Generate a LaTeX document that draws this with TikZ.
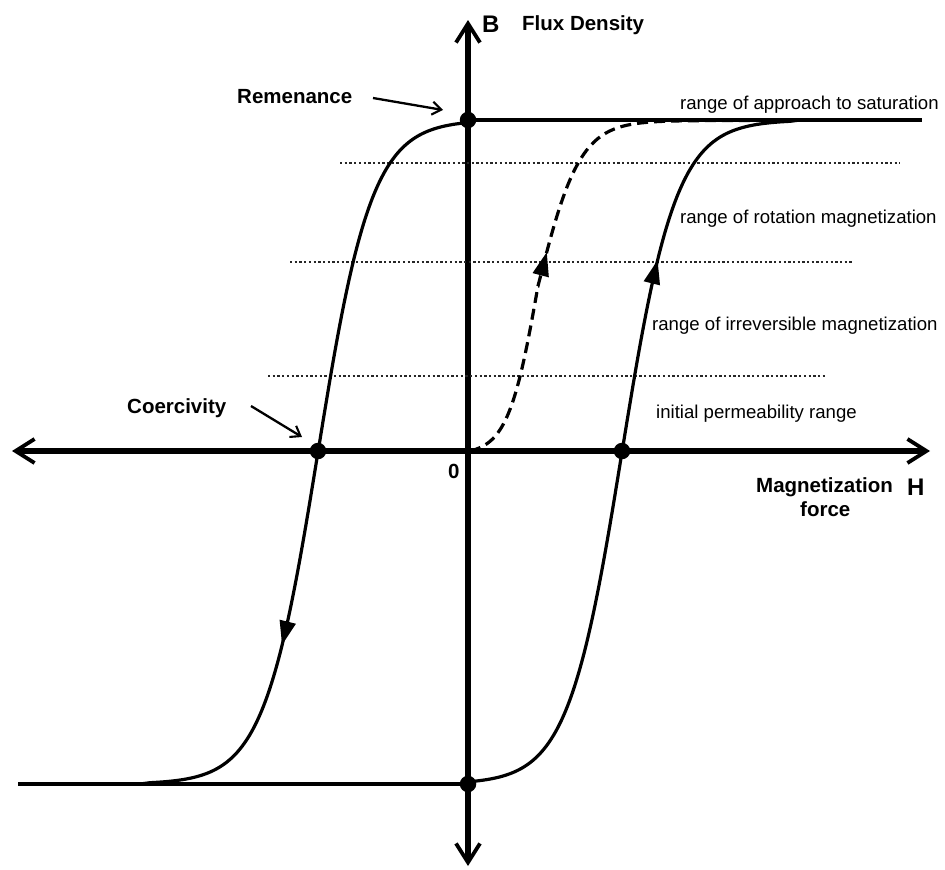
\documentclass[tikz,border=0pt]{standalone}
\usepackage{fontspec}
\setmainfont{Liberation Sans}
\usetikzlibrary{arrows.meta}
\begin{document}
\begin{tikzpicture}[x=1pt,y=-1pt,
  axisline/.style={line width=5.3pt,{Straight Barb[length=19pt,width=24pt,line width=3.8pt]}-{Straight Barb[length=19pt,width=24pt,line width=3.8pt]}},
  satline/.style={line width=3.2pt},
  curveline/.style={line width=3.2pt},
  dashcurve/.style={line width=3.2pt,dash pattern=on 11pt off 6pt},
  dotline/.style={line width=2.3pt,dash pattern=on 2.3pt off 2.4pt,black!85},
  curvetip/.style={line width=3pt,-{Triangle[length=24pt,width=16pt]}},
  pointer/.style={line width=2.3pt,-{Straight Barb[length=9pt,width=13pt,line width=2.1pt]}},
  dotnode/.style={circle,fill=black,inner sep=0pt,minimum size=16.5pt},
  boldlbl/.style={font=\fontsize{20.5}{24}\selectfont\bfseries,inner sep=0pt,anchor=base west},
  biglbl/.style={font=\fontsize{24}{28}\selectfont\bfseries,inner sep=0pt,anchor=base west},
  rangelbl/.style={font=\fontsize{18.6}{22}\selectfont,inner sep=0pt,anchor=base west},
]
\useasboundingbox (0,0) rectangle (945,870);

% axes
\coordinate (ytop) at (468,20);
\coordinate (ybot) at (468,866);
\coordinate (xleft) at (12,451);
\coordinate (xright) at (930,451);
\draw[axisline] (ybot) -- (ytop);
\draw[axisline] (xleft) -- (xright);

% dotted range separators
\coordinate (d1a) at (340,163); \coordinate (d1b) at (900,163);
\coordinate (d2a) at (290,262); \coordinate (d2b) at (852,262);
\coordinate (d3a) at (268,376); \coordinate (d3b) at (827,376);
\draw[dotline] (d1a) -- (d1b);
\draw[dotline] (d2a) -- (d2b);
\draw[dotline] (d3a) -- (d3b);

% saturation lines
\coordinate (satR) at (922,120);
\coordinate (satL) at (18,784);
\draw[satline] (468,120) -- (satR);
\draw[satline] (468,784) -- (satL);

% descending branch
\draw[curveline] plot[domain=468:150,samples=140,smooth] (\x,{452-332*tanh((\x-318)/54)}) -- (140,784);
% ascending branch
\draw[curveline] plot[domain=468:790,samples=140,smooth] (\x,{452-332*tanh((\x-622)/54)}) -- (800,120);
% initial magnetization curve
\draw[dashcurve] plot[domain=470:538,samples=60,smooth] (\x,{286+165*tanh((538-\x)/30)/0.979})
  -- plot[domain=538:790,samples=110,smooth] (\x,{286-165.5*tanh((\x-538)/42)});

% arrow tips on the curves
\draw[curvetip] (287.3,623.6) -- (282,645);
\draw[curvetip] (652.3,281.4) -- (657.6,260);
\draw[curvetip] (541.2,273.3) -- (546.8,252);

% points
\node[dotnode] (Br) at (468,120) {};
\node[dotnode] (Brn) at (468,784) {};
\node[dotnode] (Hc) at (318,451) {};
\node[dotnode] (Hcp) at (622,451) {};

% labels
\node[biglbl] (Blbl) at (482,32) {B};
\node[boldlbl] (flux) at (522,30) {Flux Density};
\node[boldlbl] (rem) at (237,103) {Remenance};
\node[boldlbl] (coer) at (127,413) {Coercivity};
\node[boldlbl] (zero) at (448,478) {0};
\node[boldlbl] (magn) at (756,492) {Magnetization};
\node[biglbl] (Hlbl) at (907,495) {H};
\node[boldlbl] (force) at (800,516) {force};

\node[rangelbl] (r1) at (680,109) {range of approach to saturation};
\node[rangelbl] (r2) at (680,223) {range of rotation magnetization};
\node[rangelbl] (r3) at (652,330) {range of irreversible magnetization};
\node[rangelbl] (r4) at (656,418) {initial permeability range};

% pointers
\coordinate (remtip) at (443,110);
\coordinate (coertip) at (302,437);
\draw[pointer] (373,98) -- (remtip);
\draw[pointer] (251,406) -- (coertip);
\end{tikzpicture}
\end{document}
